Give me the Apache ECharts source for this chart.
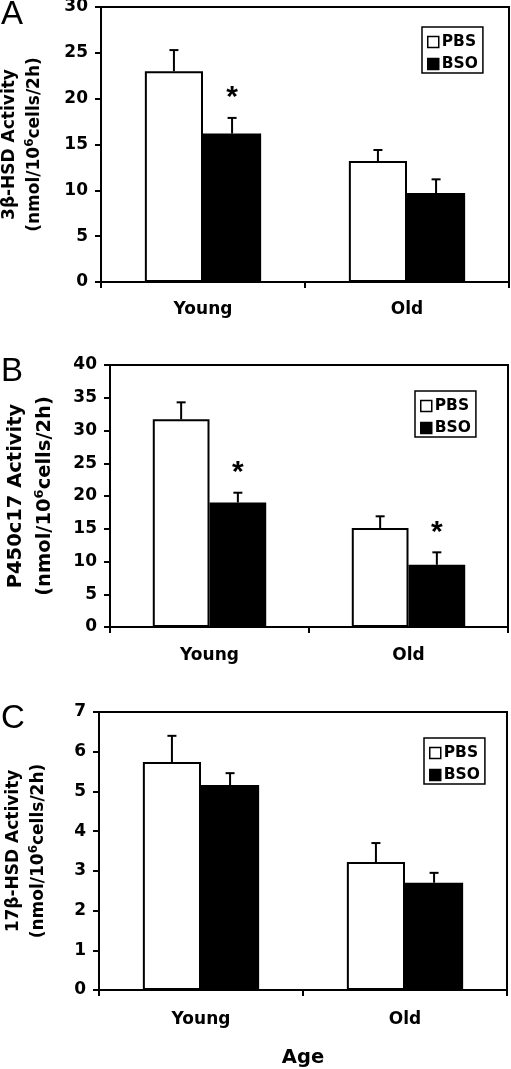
<!DOCTYPE html>
<html><head><meta charset="utf-8">
<script src="https://cdn.jsdelivr.net/npm/echarts@6/dist/echarts.min.js"></script>
<style>html,body{margin:0;padding:0;background:#fff}#c{width:511px;height:1069px}</style>
</head><body><div id="c"></div>
<script>
// ---------- data ----------
const categories = ['Young', 'Old'];
const seriesNames = ['PBS', 'BSO'];
const panelLetters = ['A', 'B', 'C'];

const pbsA = [23.0, 13.2];
const pbsErrA = [2.3, 1.2];
const bsoA = [16.2, 9.7];
const bsoErrA = [1.7, 1.5];
const sigA = [1, 0];

const pbsB = [31.7, 15.1];
const pbsErrB = [2.6, 1.8];
const bsoB = [19.0, 9.5];
const bsoErrB = [1.5, 1.9];
const sigB = [1, 1];

const pbsC = [5.74, 3.22];
const pbsErrC = [0.66, 0.48];
const bsoC = [5.16, 2.70];
const bsoErrC = [0.30, 0.25];
const sigC = [0, 0];

const yMax = [30, 40, 7];
const yStep = [5, 5, 1];
const yTitleLine1 = ['3β-HSD Activity', 'P450c17 Activity', '17β-HSD Activity'];
const yTitleUnitPre = '(nmol/10';
const yTitleUnitSup = '6';
const yTitleUnitPost = 'cells/2h)';
const xTitle = 'Age';

// ---------- layout / style ----------
const F = 'DejaVu Sans';
const BAR_FRAC = 0.285;
const grids = [
  { left: 101, right: 2, top: 7, height: 275 },
  { left: 110, right: 3, top: 365, height: 262 },
  { left: 99, right: 4, top: 712, height: 278 }
];
const nameGaps = [54, 51, 48];
const nameFont = [17, 19.5, 17];
const nameLH = [25, 29, 25];
const xLabelMargin = [19.5, 20.5, 21.5];
const legendPos = [
  { left: 422, top: 27 },
  { left: 415, top: 391 },
  { left: 424, top: 738 }
];
const letterTops = [-2, 355, 702];

const panels = [
  { pbs: pbsA, pbsErr: pbsErrA, bso: bsoA, bsoErr: bsoErrA, sig: sigA },
  { pbs: pbsB, pbsErr: pbsErrB, bso: bsoB, bsoErr: bsoErrB, sig: sigB },
  { pbs: pbsC, pbsErr: pbsErrC, bso: bsoC, bsoErr: bsoErrC, sig: sigC }
];

function errSeries(gi, vals, errs, sig, side) {
  return {
    type: 'custom', xAxisIndex: gi, yAxisIndex: gi, z: 5, silent: true,
    data: vals.map((v, i) => [i, v, v + errs[i], sig ? sig[i] : 0]),
    encode: { x: 0, y: [1, 2] },
    renderItem(params, api) {
      const i = api.value(0);
      const bw = api.size([1, 0])[0];
      const off = side * bw * BAR_FRAC / 2;
      const base = api.coord([i, api.value(1)]);
      const top = api.coord([i, api.value(2)]);
      const x = base[0] + off;
      const children = [
        { type: 'line', shape: { x1: x, y1: base[1], x2: x, y2: top[1] }, style: { stroke: '#000', lineWidth: 2 } },
        { type: 'line', shape: { x1: x - 4.5, y1: top[1], x2: x + 4.5, y2: top[1] }, style: { stroke: '#000', lineWidth: 2 } }
      ];
      if (api.value(3)) {
        children.push({
          type: 'text', x: x, y: top[1] - 20,
          style: { text: '*', fill: '#000', font: 'bold 30px "Liberation Sans"', textAlign: 'center', textVerticalAlign: 'middle' }
        });
      }
      return { type: 'group', children };
    }
  };
}

const option = {
  animation: false,
  backgroundColor: '#fff',
  title: panelLetters.map((t, i) => ({
    text: t, left: 1, top: letterTops[i], padding: 0,
    textStyle: { fontFamily: 'Liberation Sans', fontWeight: 'normal', fontSize: 33, color: '#000' }
  })),
  grid: grids.map(g => Object.assign({
    show: true, borderColor: '#000', borderWidth: 2, backgroundColor: 'transparent',
    containLabel: false, outerBoundsMode: 'none'
  }, g)),
  legend: legendPos.map(p => ({
    data: seriesNames, left: p.left, top: p.top, orient: 'vertical', selectedMode: false,
    icon: 'rect', itemWidth: 11, itemHeight: 11, itemGap: 6,
    borderColor: '#000', borderWidth: 1.5, padding: [7, 5, 1, 5],
    itemStyle: { borderWidth: 1.5 },
    textStyle: { fontFamily: F, fontWeight: 'bold', fontSize: 15.5, color: '#000', padding: [0, 0, 0, -2] }
  })),
  xAxis: grids.map((g, i) => ({
    type: 'category', gridIndex: i, data: categories,
    axisLine: { show: true, lineStyle: { color: '#000', width: 2 } },
    axisTick: { show: true, length: 6, alignWithLabel: false, interval: 0, lineStyle: { color: '#000', width: 2 } },
    axisLabel: { margin: xLabelMargin[i], color: '#000', fontFamily: F, fontWeight: 'bold', fontSize: 17, interval: 0 },
    splitLine: { show: false },
    name: i === 2 ? xTitle : '', nameLocation: 'middle', nameGap: 58,
    nameTextStyle: { fontFamily: F, fontWeight: 'bold', fontSize: 19.5, color: '#000' }
  })),
  yAxis: grids.map((g, i) => ({
    type: 'value', gridIndex: i, min: 0, max: yMax[i], interval: yStep[i],
    axisLine: { show: true, lineStyle: { color: '#000', width: 2 } },
    axisTick: { show: true, length: 6, lineStyle: { color: '#000', width: 2 } },
    axisLabel: { margin: 13, color: '#000', fontFamily: F, fontWeight: 'bold', fontSize: 17 },
    splitLine: { show: false },
    name: '{a|' + yTitleLine1[i] + '}\n{a|' + yTitleUnitPre + '}{s|' + yTitleUnitSup + '}{a|' + yTitleUnitPost + '}',
    nameLocation: 'middle', nameRotate: 90, nameGap: nameGaps[i],
    nameTextStyle: {
      rich: {
        a: { fontFamily: F, fontWeight: 'bold', fontSize: nameFont[i], lineHeight: nameLH[i], color: '#000' },
        s: { fontFamily: F, fontWeight: 'bold', fontSize: Math.round(nameFont[i] * 0.68), lineHeight: nameLH[i], color: '#000', padding: [0, 0, 10, 0] }
      }
    }
  })),
  series: []
};

panels.forEach((p, i) => {
  option.series.push({
    name: 'PBS', type: 'bar', xAxisIndex: i, yAxisIndex: i, data: p.pbs,
    barWidth: (BAR_FRAC * 100) + '%', barGap: '0%',
    itemStyle: { color: '#fff', borderColor: '#000', borderWidth: 2 }
  });
  option.series.push({
    name: 'BSO', type: 'bar', xAxisIndex: i, yAxisIndex: i, data: p.bso,
    barWidth: (BAR_FRAC * 100) + '%', barGap: '0%',
    itemStyle: { color: '#000', borderColor: '#000', borderWidth: 2 }
  });
  option.series.push(errSeries(i, p.pbs, p.pbsErr, null, -1));
  option.series.push(errSeries(i, p.bso, p.bsoErr, p.sig, 1));
});

const chart = echarts.init(document.getElementById('c'), null, { renderer: 'canvas' });
chart.setOption(option);
</script>
</body></html>
